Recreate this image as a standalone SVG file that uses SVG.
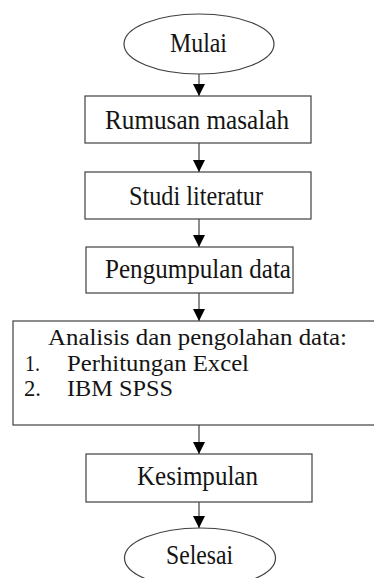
<svg xmlns="http://www.w3.org/2000/svg" width="374" height="578" viewBox="0 0 374 578">
<defs>
<marker id="arr" markerUnits="userSpaceOnUse" markerWidth="12" markerHeight="12" refX="12" refY="6" orient="auto">
<path d="M0,0 L12,6 L0,12 Z" fill="#000"/>
</marker>
<style>
.shape{fill:#fff;stroke:#404040;stroke-width:1.2}
.t{font-family:"Liberation Serif","Times New Roman",serif;font-size:26.5px;fill:#141414}
.s{font-size:23px}
.conn line{stroke:#404040;stroke-width:1.2;marker-end:url(#arr)}
</style>
</defs>
<rect width="374" height="578" fill="#fff"/>
<g id="connectors" class="conn">
<line x1="199" y1="74" x2="199" y2="96"/>
<line x1="199" y1="143" x2="199" y2="172"/>
<line x1="199" y1="219" x2="199" y2="247"/>
<line x1="199" y1="293" x2="199" y2="321"/>
<line x1="199" y1="425" x2="199" y2="454"/>
<line x1="199" y1="502" x2="199" y2="528"/>
</g>
<g id="mulai">
<ellipse class="shape" cx="199" cy="44" rx="75" ry="30"/>
<text class="t" x="170" y="52" textLength="57" lengthAdjust="spacingAndGlyphs">Mulai</text>
</g>
<g id="rumusan">
<rect class="shape" x="85" y="96" width="226" height="47"/>
<text class="t" x="105" y="129" textLength="184" lengthAdjust="spacingAndGlyphs">Rumusan masalah</text>
</g>
<g id="studi">
<rect class="shape" x="85" y="172" width="226" height="47"/>
<text class="t" x="129" y="205" textLength="134" lengthAdjust="spacingAndGlyphs">Studi literatur</text>
</g>
<g id="pengumpulan">
<rect class="shape" x="86" y="247" width="207" height="46"/>
<text class="t" x="105" y="278" textLength="186" lengthAdjust="spacingAndGlyphs">Pengumpulan data</text>
</g>
<g id="analisis">
<rect class="shape" x="13" y="321" width="370" height="104"/>
<text class="t s" x="48" y="345" textLength="299" lengthAdjust="spacingAndGlyphs">Analisis  dan pengolahan data:</text>
<text class="t s" x="25" y="371" textLength="15" lengthAdjust="spacingAndGlyphs">1.</text>
<text class="t s" x="67" y="371" textLength="182" lengthAdjust="spacingAndGlyphs">Perhitungan Excel</text>
<text class="t s" x="24" y="396" textLength="17" lengthAdjust="spacingAndGlyphs">2.</text>
<text class="t s" x="67" y="396" textLength="106" lengthAdjust="spacingAndGlyphs">IBM SPSS</text>
</g>
<g id="kesimpulan">
<rect class="shape" x="86" y="454" width="226" height="48"/>
<text class="t" x="137" y="485" textLength="121" lengthAdjust="spacingAndGlyphs">Kesimpulan</text>
</g>
<g id="selesai">
<ellipse class="shape" cx="200" cy="558" rx="75.5" ry="30"/>
<text class="t" x="166" y="564" textLength="67" lengthAdjust="spacingAndGlyphs">Selesai</text>
</g>
</svg>
